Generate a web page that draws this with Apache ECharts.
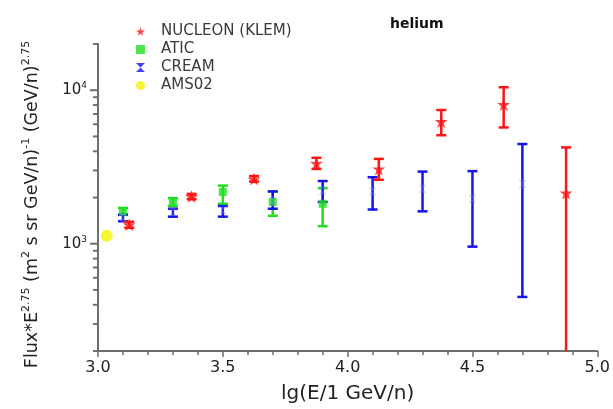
<!DOCTYPE html>
<html>
<head>
<meta charset="utf-8">
<script src="https://cdn.jsdelivr.net/npm/echarts@6/dist/echarts.min.js"></script>
<style>
  html, body { margin: 0; padding: 0; background: #fff; }
  #chart { width: 613px; height: 409px; }
</style>
</head>
<body>
<div id="chart"></div>
<script>
// NUCLEON (KLEM) 数据：x = lg(E), y = Flux*E^2.75, 误差上下限
const nucleonX = [3.125, 3.375, 3.625, 3.875, 4.125, 4.375, 4.625, 4.875]
const nucleonY = [1330, 2030, 2640, 3340, 3070, 6250, 8070, 2140]
const nucleonLo = [1270, 1950, 2540, 3070, 2610, 5090, 5720, 150]
const nucleonHi = [1390, 2110, 2760, 3630, 3570, 7430, 10450, 4240]

// ATIC
const aticX = [3.1, 3.3, 3.5, 3.7, 3.9]
const aticY = [1625, 1870, 2170, 1870, 1820]
const aticLo = [1540, 1760, 1820, 1520, 1300]
const aticHi = [1710, 1980, 2390, 2190, 2300]

// CREAM
const creamX = [3.1, 3.3, 3.5, 3.7, 3.9, 4.1, 4.3, 4.5, 4.7]
const creamY = [1480, 1610, 1650, 1910, 2220, 2190, 2280, 1960, 2450]
const creamLo = [1400, 1500, 1500, 1690, 1870, 1670, 1625, 957, 450]
const creamHi = [1550, 1690, 1760, 2190, 2560, 2710, 2950, 2970, 4460]

// AMS02
const amsX = [3.035]
const amsY = [1127]

// 坐标轴刻度
const xMin = 3
const yMajorTicks = [1000, 10000]
const yMinorTicks = [200, 300, 400, 500, 600, 700, 800, 900, 2000, 3000, 4000, 5000, 6000, 7000, 8000, 9000, 20000]

const FONT = 'DejaVu Sans'
const STAR = 'path://M50,0 L61,35 L98,35 L68,57 L79,91 L50,70 L21,91 L32,57 L2,35 L39,35 Z'
const HOURGLASS = 'path://M0,0 L10,0 L5,5 L10,10 L0,10 L5,5 Z'

const RED = '#ff1414'
const GREEN = '#1ee01e'
const BLUE = '#1414f0'
const YELLOW = '#f2f200'
const AXIS = '#6e6e6e'

const zip = (...arrs) => arrs[0].map((_, i) => arrs.map(a => a[i]))

// 误差棒：竖线 + 上下横帽，超出下边界的部分裁掉
const errRender = (color) => (params, api) => {
  const x = api.value(0)
  const top = api.coord([x, api.value(2)])
  const bot = api.coord([x, api.value(1)])
  const cs = params.coordSys
  const bottom = cs.y + cs.height
  const clipped = bot[1] > bottom
  const yb = Math.min(bot[1], bottom)
  const half = 5
  const style = { stroke: color, lineWidth: 2.5 }
  const children = [
    { type: 'line', shape: { x1: top[0], y1: top[1], x2: top[0], y2: yb }, style },
    { type: 'line', shape: { x1: top[0] - half, y1: top[1], x2: top[0] + half, y2: top[1] }, style }
  ]
  if (!clipped) {
    children.push({ type: 'line', shape: { x1: bot[0] - half, y1: bot[1], x2: bot[0] + half, y2: bot[1] }, style })
  }
  return { type: 'group', children }
}

const errSeries = (name, xs, lo, hi, color) => ({
  name,
  type: 'custom',
  renderItem: errRender(color),
  encode: { x: 0, y: [1, 2] },
  data: zip(xs, lo, hi),
  silent: true,
  z: 2
})

const chart = echarts.init(document.getElementById('chart'))

const option = {
  animation: false,
  title: {
    text: 'helium',
    left: 385,
    top: 12,
    textStyle: { fontFamily: FONT, fontSize: 14, fontWeight: 'bold', color: '#111' }
  },
  legend: {
    orient: 'vertical',
    left: 131,
    top: 19,
    itemWidth: 9,
    itemHeight: 9,
    itemGap: 3,
    textStyle: { fontFamily: FONT, fontSize: 15, color: '#3a3a3a', padding: [0, 0, 0, 11] },
    data: [
      { name: 'NUCLEON (KLEM)', icon: STAR },
      { name: 'ATIC', icon: 'rect', itemStyle: { color: GREEN } },
      { name: 'CREAM', icon: HOURGLASS, itemStyle: { color: BLUE } },
      { name: 'AMS02', icon: 'circle' }
    ]
  },
  grid: { left: 98, right: 15, top: 44, bottom: 56 },
  xAxis: {
    type: 'value',
    min: xMin,
    max: 5,
    interval: 0.5,
    name: 'lg(E/1 GeV/n)',
    nameLocation: 'middle',
    nameGap: 33,
    nameTextStyle: { fontFamily: FONT, fontSize: 20, color: '#222' },
    axisLine: { lineStyle: { color: AXIS, width: 2 } },
    axisTick: { length: 6, lineStyle: { color: AXIS, width: 1.5 } },
    minorTick: { show: true, splitNumber: 5, length: 4, lineStyle: { color: AXIS, width: 1.5 } },
    axisLabel: { fontFamily: FONT, fontSize: 16, color: '#222', margin: 9, formatter: v => v.toFixed(1) },
    splitLine: { show: false }
  },
  yAxis: {
    type: 'log',
    logBase: 10,
    min: 200,
    max: 20000,
    name: '{m|Flux*E}{s|2.75}{m| (m}{s|2}{m| s sr GeV/n)}{s|-1}{m| (GeV/n)}{s|2.75}',
    nameLocation: 'middle',
    nameRotate: 90,
    nameGap: 55,
    nameTextStyle: {
      padding: [0, 0, 0, -14],
      rich: {
        m: { fontFamily: FONT, fontSize: 17.5, color: '#222', lineHeight: 22 },
        s: { fontFamily: FONT, fontSize: 11, color: '#222', verticalAlign: 'top', lineHeight: 22 }
      }
    },
    axisLine: { lineStyle: { color: AXIS, width: 2 } },
    axisTick: { show: false },
    axisLabel: {
      customValues: yMajorTicks,
      margin: 11,
      formatter: v => '{b|10}{s|' + Math.round(Math.log10(v)) + '}',
      rich: {
        b: { fontFamily: FONT, fontSize: 15, color: '#222', lineHeight: 18 },
        s: { fontFamily: FONT, fontSize: 9, color: '#222', verticalAlign: 'top', lineHeight: 18 }
      }
    },
    splitLine: { show: false }
  },
  series: [
    errSeries('atic-err', aticX, aticLo, aticHi, GREEN),
    errSeries('cream-err', creamX, creamLo, creamHi, BLUE),
    errSeries('nucleon-err', nucleonX, nucleonLo, nucleonHi, RED),
    {
      name: 'ATIC',
      type: 'scatter',
      symbol: 'rect',
      symbolSize: 8,
      itemStyle: { color: GREEN },
      data: zip(aticX, aticY),
      z: 3
    },
    {
      name: 'CREAM',
      type: 'scatter',
      symbol: HOURGLASS,
      symbolSize: 8,
      itemStyle: { color: 'rgba(120,130,255,0.45)' },
      data: zip(creamX, creamY),
      z: 3
    },
    {
      name: 'NUCLEON (KLEM)',
      type: 'scatter',
      symbol: STAR,
      symbolSize: 13,
      itemStyle: { color: RED },
      data: zip(nucleonX, nucleonY),
      z: 4
    },
    {
      name: 'AMS02',
      type: 'scatter',
      symbol: 'circle',
      symbolSize: 12,
      itemStyle: { color: YELLOW },
      data: zip(amsX, amsY),
      z: 4
    }
  ]
}

chart.setOption(option)

// y 轴刻度线（对数轴 2..9 小刻度 + 10^n 大刻度），位置由轴自身的比例换算
const tickLine = (v, len) => {
  const p = chart.convertToPixel({ gridIndex: 0 }, [xMin, v])
  return {
    type: 'line',
    silent: true,
    shape: { x1: p[0] - len, y1: p[1], x2: p[0], y2: p[1] },
    style: { stroke: AXIS, lineWidth: 2 },
    z: 10
  }
}
chart.setOption({
  graphic: [
    ...yMajorTicks.map(v => tickLine(v, 8)),
    ...yMinorTicks.map(v => tickLine(v, 5))
  ]
})
</script>
</body>
</html>
